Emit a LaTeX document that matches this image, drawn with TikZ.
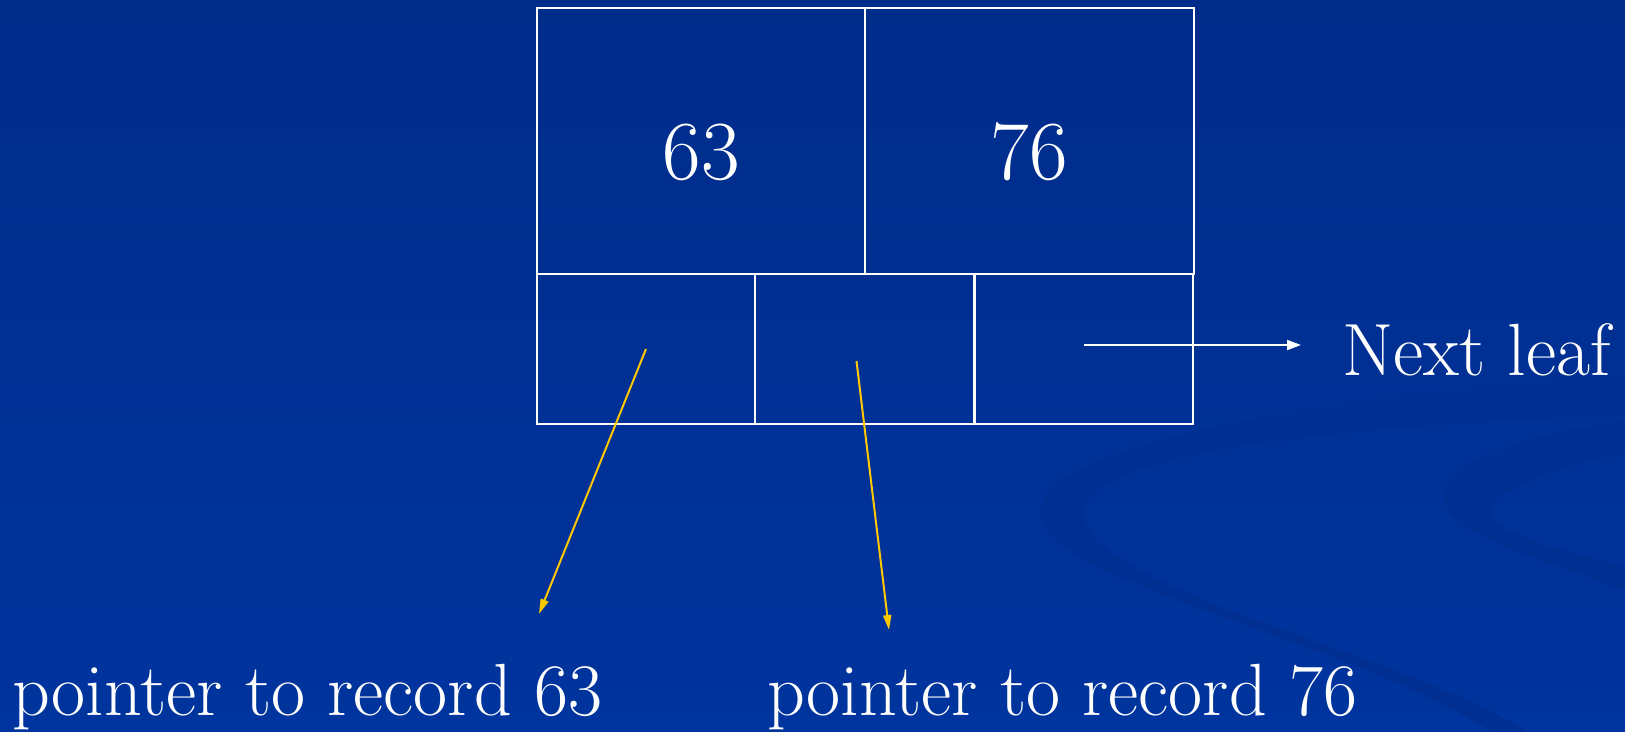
\documentclass[tikz,border=0pt]{standalone}
\usepackage{fontspec}
\usetikzlibrary{arrows.meta, positioning}

\definecolor{slidetop}{RGB}{0,44,138}
\definecolor{slidebottom}{RGB}{0,52,158}
\definecolor{swoosh}{RGB}{0,47,145}
\definecolor{ptrgold}{RGB}{255,200,0}

\begin{document}
\begin{tikzpicture}[
    x=1pt, y=-1pt,
    cell/.style={draw=white, line width=2pt, inner sep=0pt, text=white, font=\fontsize{84}{90}\selectfont, text height=77pt, text depth=0pt},
    keycell/.style={cell, minimum width=328pt, minimum height=266pt},
    ptrcell/.style={cell, minimum width=218.5pt, minimum height=150pt},
    note/.style={text=white, font=\fontsize{74}{78}\selectfont, inner sep=0pt, anchor=base west},
    ptr/.style={-{Triangle[length=15pt, width=8pt]}, line width=2pt, draw=ptrgold},
    link/.style={-{Triangle[length=14pt, width=10pt]}, line width=2pt, draw=white}
]
    % slide background
    \useasboundingbox (0,0) rectangle (1625,731);
    \shade[top color=slidetop, bottom color=slidebottom] (0,0) rectangle (1625,731);
    \fill[swoosh] (1625,375) .. controls (1350,395) and (1040,440) .. (1040,513)
        .. controls (1040,580) and (1350,640) .. (1490,731) -- (1525,731)
        .. controls (1400,650) and (1084,590) .. (1084,513)
        .. controls (1084,450) and (1350,425) .. (1625,415) -- cycle;
    \fill[swoosh] (1625,420) .. controls (1500,440) and (1444,470) .. (1444,497)
        .. controls (1444,530) and (1540,560) .. (1625,590) -- (1625,567)
        .. controls (1540,545) and (1490,530) .. (1490,513)
        .. controls (1490,490) and (1560,465) .. (1625,453) -- cycle;

    % leaf node
    \node[keycell] (k63) at (701,141) {63};
    \node[keycell, minimum width=329pt] (k76) at (1029.5,141) {76};
    \node[ptrcell] (p63) at (646,349) {};
    \node[ptrcell] (p76) at (864.5,349) {};
    \node[ptrcell] (pnext) at (1084,349) {};

    % labels
    \node[note] (nextleaf) at (1342,375) {Next leaf};
    \node[note] (rec63) at (12,715) {pointer to record 63};
    \node[note] (rec76) at (767,715) {pointer to record 76};

    \coordinate (tip63) at (539,614);
    \coordinate (tip76) at (889,630);
    \coordinate (tipnext) at (1301,345);

    \draw[ptr] (p63.center) -- (tip63);
    \draw[ptr] ([shift={(-8,12)}]p76.center) -- (tip76);
    \draw[link] (pnext.center |- tipnext) -- (tipnext);
\end{tikzpicture}
\end{document}
